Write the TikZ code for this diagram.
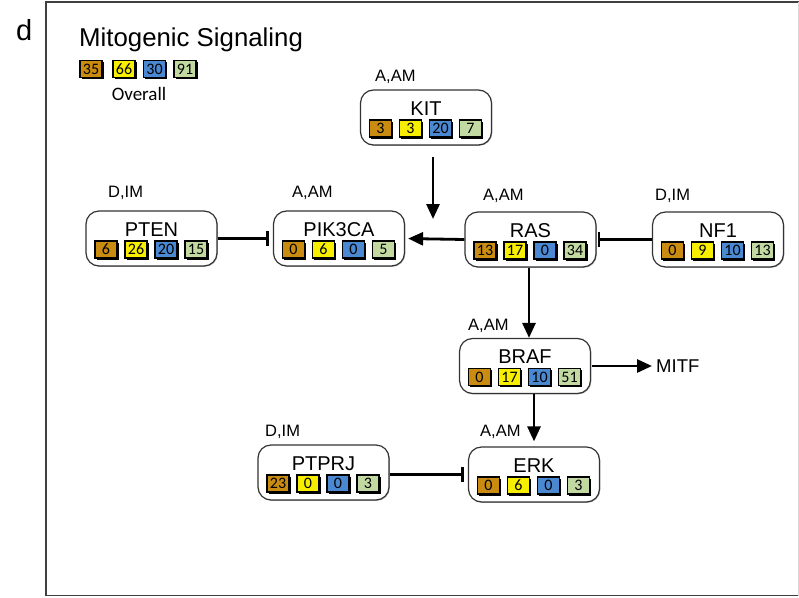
\documentclass[tikz,border=0pt]{standalone}
\usepackage{fontspec}
\setmainfont{Liberation Sans}
\newfontfamily\numfont{Carlito}
\usetikzlibrary{arrows.meta,shadows}
\definecolor{cochre}{HTML}{C98C10}
\definecolor{cyel}{HTML}{F7EE00}
\definecolor{cblue}{HTML}{4A88D2}
\definecolor{cgreen}{HTML}{C3D9A2}
\tikzset{
  genebox/.style={draw=black!80, line width=1.2pt, rounded corners=13pt, minimum width=131pt, minimum height=55pt, inner sep=0pt, fill=white,
    drop shadow={shadow xshift=0.8pt, shadow yshift=-0.8pt, opacity=0.5, fill=black!60}},
  gname/.style={font=\fontsize{20}{20}\selectfont, inner sep=0pt},
  sq/.style={draw=black, line width=1.4pt, fill=#1, minimum width=22pt, minimum height=17pt, inner sep=0pt,
    font=\numfont\fontsize{16}{16}\selectfont,
    drop shadow={shadow xshift=1.5pt, shadow yshift=-1.5pt, opacity=1, fill=black}},
  lbl/.style={font=\fontsize{16.5}{16.5}\selectfont, anchor=west, inner sep=0pt},
  arr/.style={line width=2.8pt, -{Triangle[length=15pt,width=13pt]}},
  inh/.style={line width=2.8pt, -{Bar[width=15pt,line width=2.8pt]}},
}
\newcommand\gene[7]{%
  \node[genebox] (#1) at (#2) {};
  \node[gname] (#1-t) at ([yshift=9pt]#1.center) {#3};
  \node[sq=cochre] (#1-a) at ([xshift=-45.5pt,yshift=-11pt]#1.center) {#4};
  \node[sq=cyel]   (#1-b) at ([xshift=-15.5pt,yshift=-11pt]#1.center) {#5};
  \node[sq=cblue]  (#1-c) at ([xshift=14.5pt,yshift=-11pt]#1.center) {#6};
  \node[sq=cgreen] (#1-d) at ([xshift=44.5pt,yshift=-11pt]#1.center) {#7};
}
\begin{document}
\begin{tikzpicture}[x=1pt,y=-1pt]
\useasboundingbox (0,0) rectangle (799,597);
% frame
\draw[line width=1.5pt, black!75] (799,2) -- (46,2) -- (46,595.5) -- (799,595.5);
\draw[line width=0.6pt, black!15] (798,2) -- (798,595.5);
% panel letter and title
\node[anchor=base west, inner sep=0pt, font=\fontsize{29}{29}\selectfont] (d) at (16,40) {d};
\node[anchor=base west, inner sep=0pt, font=\fontsize{25.8}{25.8}\selectfont] (title) at (79,46) {Mitogenic Signaling};
\node[sq=cochre] (l1) at (91,69) {35};
\node[sq=cyel]   (l2) at (124,69) {66};
\node[sq=cblue]  (l3) at (154.5,69) {30};
\node[sq=cgreen] (l4) at (185,69) {91};
\node[inner sep=0pt, font=\numfont\fontsize{19}{19}\selectfont] (ov) at (139,94) {Overall};
% genes
\gene{kit}{426,117.5}{KIT}{3}{3}{20}{7}
\gene{pten}{151.5,238.5}{PTEN}{6}{26}{20}{15}
\gene{pik}{339,238.5}{PIK3CA}{0}{6}{0}{5}
\gene{ras}{530.5,239.5}{RAS}{13}{17}{0}{34}
\gene{nf}{718,239.5}{NF1}{0}{9}{10}{13}
\gene{braf}{525,366}{BRAF}{0}{17}{10}{51}
\gene{ptprj}{323.5,472.5}{PTPRJ}{23}{0}{0}{3}
\gene{erk}{534,474.5}{ERK}{0}{6}{0}{3}
% labels
\node[lbl] (kitl) at (375,77) {A,AM};
\node[lbl] (ptenl) at (108,193) {D,IM};
\node[lbl] (pikl) at (292,193) {A,AM};
\node[lbl] (rasl) at (483,196) {A,AM};
\node[lbl] (nfl) at (655,196) {D,IM};
\node[lbl] (brafl) at (468,326) {A,AM};
\node[lbl] (ptprjl) at (265,432) {D,IM};
\node[lbl] (erkl) at (480,432) {A,AM};
\node[inner sep=0pt, anchor=west, font=\fontsize{18.5}{18.5}\selectfont] (mitf) at (656,366) {MITF};
% connectors
\coordinate (ks) at (433,157);
\coordinate (kj) at (433,219);
\draw[arr] (ks) -- (kj);
\draw[arr, shorten >=3pt] (ras.west) -- (pik.east);
\draw[inh, shorten >=4pt] (pten.east) -- (pik.west);
\draw[inh, shorten >=1pt] (nf.west) -- (ras.east);
\draw[arr] ([xshift=-1.5pt]ras.south) -- ([xshift=-1.5pt]ras.south |- braf.north);
\draw[arr, shorten <=1pt, shorten >=4pt] (braf.east) -- (braf.east -| mitf.west);
\draw[arr, shorten >=5pt] (erk.north |- braf.south) -- (erk.north);
\draw[inh, shorten >=4pt] (ptprj.east |- erk.west) -- (erk.west);
\end{tikzpicture}
\end{document}
